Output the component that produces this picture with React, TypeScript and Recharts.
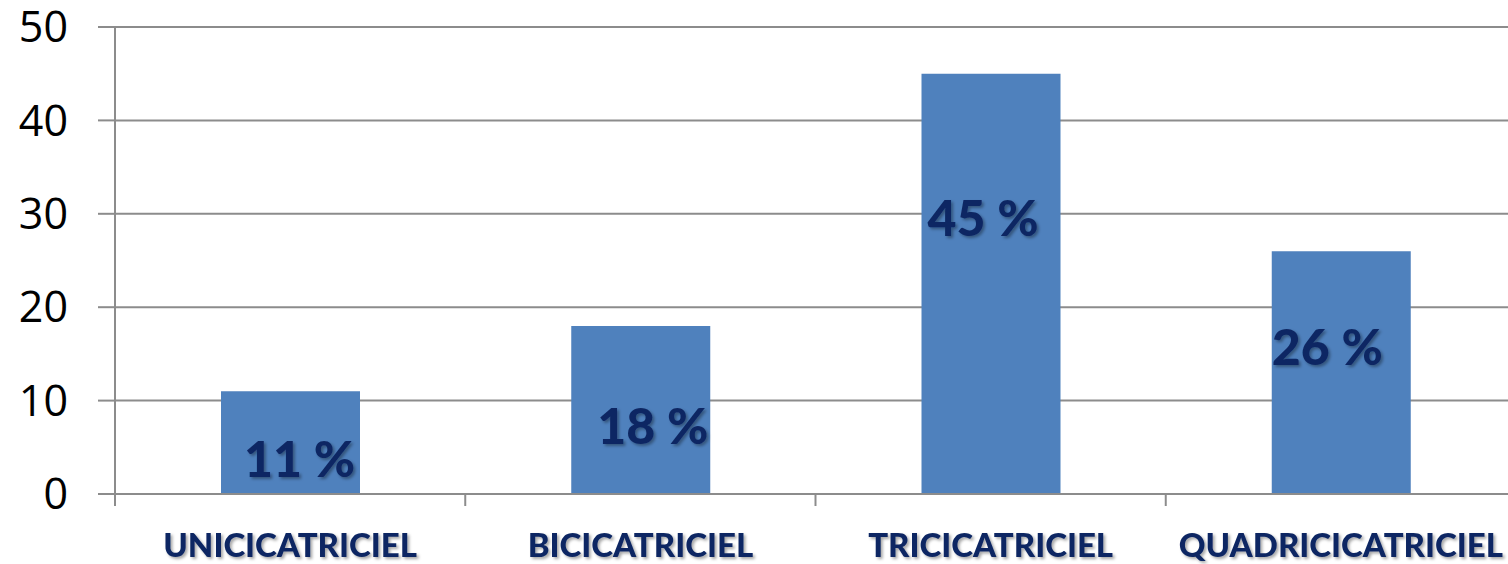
import React from "react";
import { BarChart, Bar, XAxis, YAxis, CartesianGrid, LabelList } from "recharts";

const categories = ["UNICICATRICIEL", "BICICATRICIEL", "TRICICATRICIEL", "QUADRICICATRICIEL"];
const values = [11, 18, 45, 26];
const yTicks = [0, 10, 20, 30, 40, 50];
const valueLabels = ["11 %", "18 %", "45 %", "26 %"];
// label nudges (style only): px from bar top / bar centre
const labelNudges = [
  { dx: 9, dy: 86 },
  { dx: 12, dy: 118 },
  { dx: -8, dy: 162 },
  { dx: -14, dy: 114 },
];

const data = categories.map((c, i) => ({ name: c, value: values[i], label: valueLabels[i] }));

const CHART_W = 1516;
const CHART_H = 564;
const LEFT = 115;
const RIGHT = 0;
const bandSize = (CHART_W - LEFT - RIGHT) / categories.length;
const GRID = "#8c8c8c";
const NAVY = "#0f2863";

const CatTick = (props: any) => {
  const { x, y, payload } = props;
  const left = x - bandSize / 2;
  return (
    <g>
      <line x1={left} y1={y} x2={left} y2={y + 12} stroke={GRID} strokeWidth={2} />
      <text
        x={x}
        y={y + 63}
        textAnchor="middle"
        fontFamily="Lato"
        fontWeight={900}
        fontSize={33}
        fill={NAVY}
        filter="url(#shadow)"
      >
        {payload.value}
      </text>
    </g>
  );
};

const ValueLabel = (props: any) => {
  const { x, y, width, index } = props;
  const n = labelNudges[index] || { dx: 0, dy: 0 };
  return (
    <text
      x={x + width / 2 + n.dx}
      y={y + n.dy}
      textAnchor="middle"
      fontFamily="Lato"
      fontWeight={900}
      fontSize={50}
      fill={NAVY}
      filter="url(#shadow)"
    >
      {valueLabels[index]}
    </text>
  );
};

export default function App() {
  return (
    <div style={{ position: "absolute", left: 0, top: 0, width: 1508, height: CHART_H, overflow: "hidden", background: "#fff" }}>
      <BarChart
        width={CHART_W}
        height={CHART_H}
        data={data}
        margin={{ top: 27, right: RIGHT, bottom: 0, left: 0 }}
        barCategoryGap="30%"
      >
        <defs>
          <filter id="shadow" x="-20%" y="-20%" width="140%" height="140%">
            <feDropShadow dx="2" dy="2" stdDeviation="1.5" floodColor="#000" floodOpacity="0.35" />
          </filter>
        </defs>
        <CartesianGrid vertical={false} stroke={GRID} strokeWidth={2} />
        <XAxis
          dataKey="name"
          height={70}
          axisLine={{ stroke: GRID, strokeWidth: 2 }}
          tickLine={false}
          tickSize={0}
          tickMargin={0}
          tick={<CatTick />}
          interval={0}
        />
        <YAxis
          width={LEFT}
          domain={[0, 50]}
          ticks={yTicks}
          axisLine={{ stroke: GRID, strokeWidth: 2 }}
          tickLine={{ stroke: GRID, strokeWidth: 2 }}
          tickSize={17}
          tickMargin={30}
          tick={{ fontFamily: "Open Sans", fontSize: 43, fill: "#000" }}
        />
        <Bar dataKey="value" fill="#4f81bd" barSize={139} isAnimationActive={false}>
          <LabelList dataKey="label" content={<ValueLabel />} />
        </Bar>
      </BarChart>
    </div>
  );
}
